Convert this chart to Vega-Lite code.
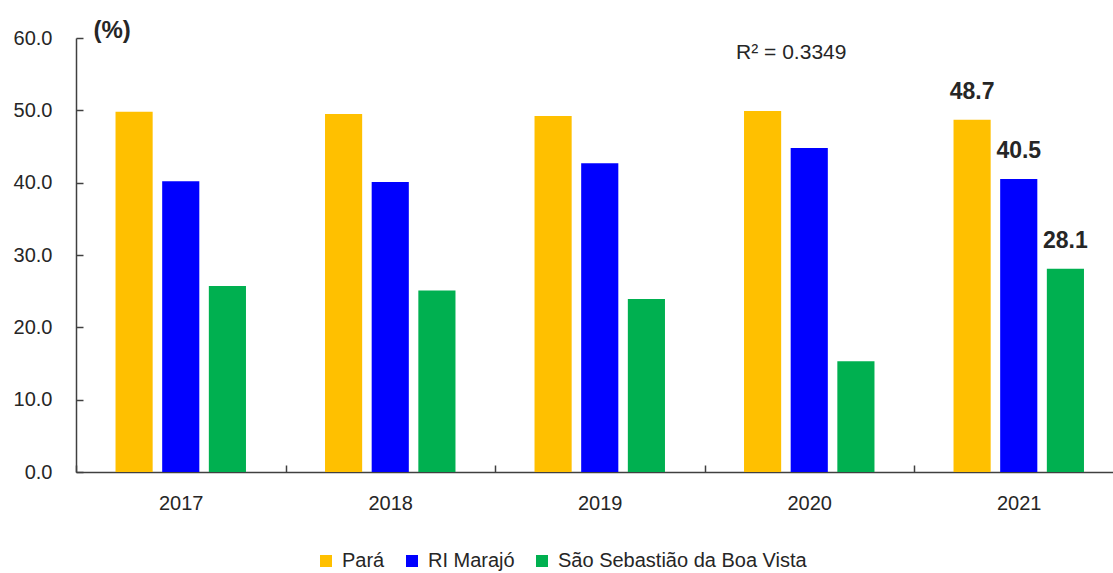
{
  "$schema": "https://vega.github.io/schema/vega-lite/v6.json",
  "width": 1037,
  "height": 434,
  "autosize": {"type": "none"},
  "padding": {"left": 76, "top": 38, "right": 0, "bottom": 101},
  "background": "white",
  "config": {
    "font": "Liberation Sans",
    "view": {"stroke": null},
    "axis": {"labelFont": "Liberation Sans", "titleFont": "Liberation Sans", "labelColor": "#262626", "titleColor": "#262626"},
    "legend": {"labelFont": "Liberation Sans"}
  },
  "datasets": {
    "bars": [
      {"year": "2017", "series": "Pará", "value": 49.8},
      {"year": "2017", "series": "RI Marajó", "value": 40.2},
      {"year": "2017", "series": "São Sebastião da Boa Vista", "value": 25.7},
      {"year": "2018", "series": "Pará", "value": 49.5},
      {"year": "2018", "series": "RI Marajó", "value": 40.1},
      {"year": "2018", "series": "São Sebastião da Boa Vista", "value": 25.1},
      {"year": "2019", "series": "Pará", "value": 49.2},
      {"year": "2019", "series": "RI Marajó", "value": 42.7},
      {"year": "2019", "series": "São Sebastião da Boa Vista", "value": 23.9},
      {"year": "2020", "series": "Pará", "value": 49.9},
      {"year": "2020", "series": "RI Marajó", "value": 44.8},
      {"year": "2020", "series": "São Sebastião da Boa Vista", "value": 15.3},
      {"year": "2021", "series": "Pará", "value": 48.7},
      {"year": "2021", "series": "RI Marajó", "value": 40.5},
      {"year": "2021", "series": "São Sebastião da Boa Vista", "value": 28.1}
    ],
    "labels": [
      {"year": "2021", "series": "Pará", "value": 48.7},
      {"year": "2021", "series": "RI Marajó", "value": 40.5},
      {"year": "2021", "series": "São Sebastião da Boa Vista", "value": 28.1}
    ],
    "r2": [
      {"year": "2020", "text": "R² = 0.3349", "pos": 57.1}
    ]
  },
  "encoding": {
    "x": {
      "field": "year", "type": "nominal",
      "scale": {"domain": ["2017", "2018", "2019", "2020", "2021"], "range": [0, 1047.5], "paddingInner": 0, "paddingOuter": 0},
      "axis": {
        "title": null, "labelAngle": 0, "labelFontSize": 20, "labelPadding": 28,
        "tickBand": "extent", "tickSize": -7, "tickWidth": 1.5, "tickColor": "#404040",
        "domainColor": "#404040", "domainWidth": 1.5, "grid": false
      }
    },
    "y": {
      "type": "quantitative",
      "scale": {"domain": [0, 60], "nice": false},
      "axis": {
        "title": "(%)", "titleAngle": 0, "titleAlign": "left", "titleBaseline": "alphabetic",
        "titleX": 17, "titleY": -1, "titleFontSize": 24, "titleFontWeight": "bold",
        "values": [0, 10, 20, 30, 40, 50, 60], "format": ".1f",
        "labelFontSize": 20, "labelPadding": 31, "tickSize": -7, "tickWidth": 1.5, "tickColor": "#404040",
        "domainColor": "#404040", "domainWidth": 1.5, "grid": false
      }
    }
  },
  "layer": [
    {
      "data": {"name": "bars"},
      "mark": {"type": "bar"},
      "encoding": {
        "y": {"field": "value", "type": "quantitative"},
        "xOffset": {"field": "series", "type": "nominal", "scale": {"domain": ["Pará", "RI Marajó", "São Sebastião da Boa Vista"], "paddingInner": 0.204, "paddingOuter": 0.847}},
        "color": {
          "field": "series", "type": "nominal",
          "scale": {"domain": ["Pará", "RI Marajó", "São Sebastião da Boa Vista"], "range": ["#FFC000", "#0000FF", "#00B050"]},
          "legend": {
            "title": null, "orient": "none", "direction": "horizontal", "legendX": 240, "legendY": 513,
            "padding": 0, "symbolType": "square", "symbolSize": 144, "symbolStrokeWidth": 0,
            "labelFontSize": 20, "labelColor": "#262626", "labelOffset": 6, "labelLimit": 500, "columnPadding": 17
          }
        }
      }
    },
    {
      "data": {"name": "labels"},
      "mark": {"type": "text", "fontSize": 23, "fontWeight": "bold", "baseline": "alphabetic", "dy": -21, "color": "#262626"},
      "encoding": {
        "y": {"field": "value", "type": "quantitative"},
        "xOffset": {"field": "series", "type": "nominal"},
        "text": {"field": "value", "type": "quantitative", "format": ".1f"}
      }
    },
    {
      "data": {"name": "r2"},
      "mark": {"type": "text", "fontSize": 21, "baseline": "alphabetic", "dx": -18, "color": "#262626"},
      "encoding": {
        "y": {"field": "pos", "type": "quantitative"},
        "text": {"field": "text"}
      }
    }
  ]
}
